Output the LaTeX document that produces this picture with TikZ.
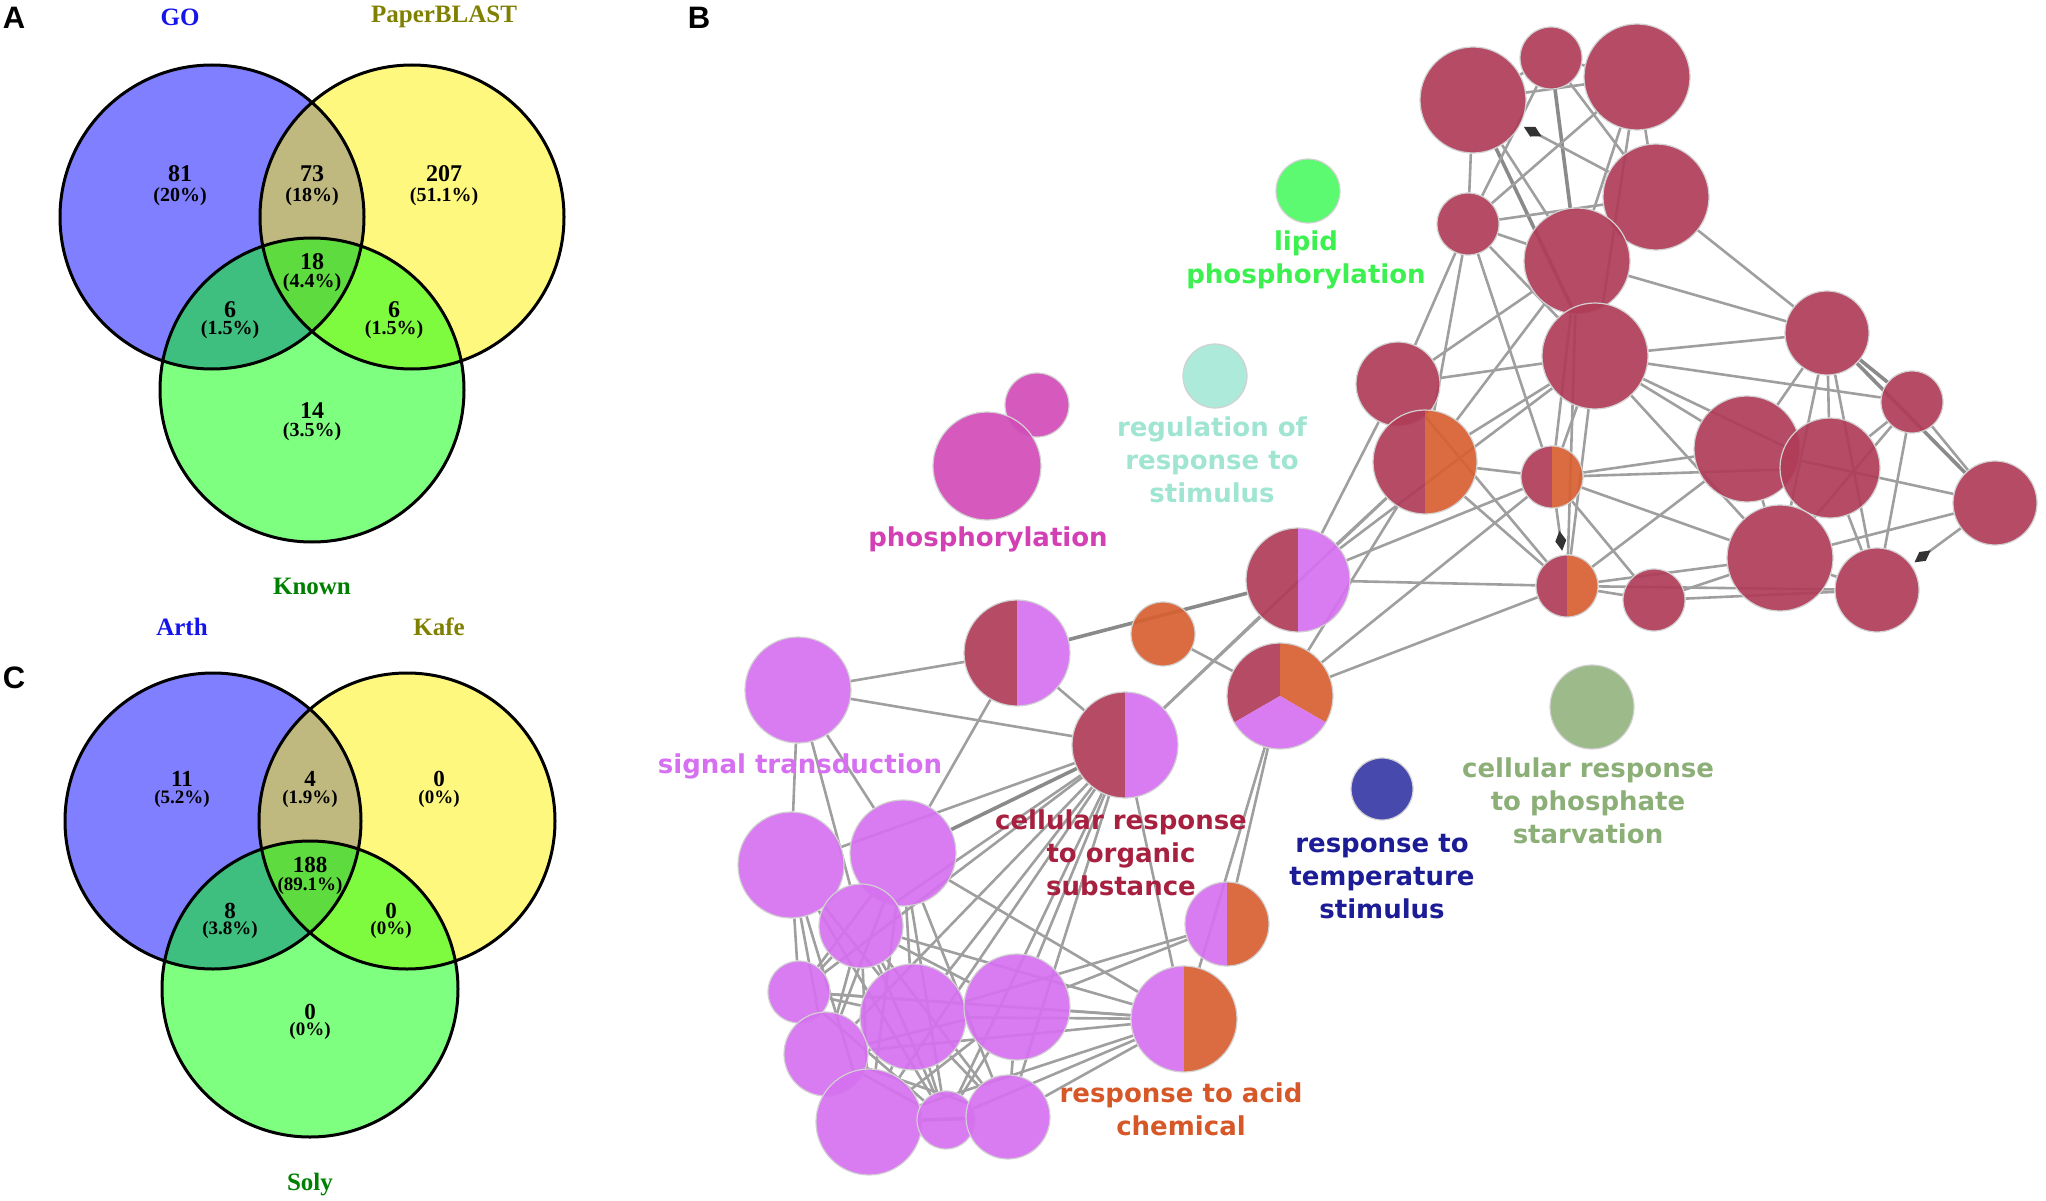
\documentclass[tikz,border=0pt]{standalone}
\usepackage{fontspec}
\setmainfont{Liberation Serif}
\newfontfamily\termfont{DejaVu Sans}
\newfontfamily\panelfont{Liberation Sans}
\usetikzlibrary{arrows.meta, backgrounds}

% --- Colores de los grupos ---
\definecolor{termred}{RGB}{176,60,88}
\definecolor{termorange}{RGB}{216,96,50}
\definecolor{termviolet}{RGB}{214,112,240}
\definecolor{termmagenta}{RGB}{210,76,184}
\definecolor{termlime}{RGB}{77,250,100}
\definecolor{termmint}{RGB}{166,232,214}
\definecolor{termnavy}{RGB}{56,58,166}
\definecolor{termsage}{RGB}{148,180,128}
\definecolor{txtmagenta}{RGB}{210,64,180}
\definecolor{txtlime}{RGB}{60,240,80}
\definecolor{txtmint}{RGB}{160,228,210}
\definecolor{txtviolet}{RGB}{214,112,240}
\definecolor{txtred}{RGB}{168,32,64}
\definecolor{txtorange}{RGB}{214,88,40}
\definecolor{txtnavy}{RGB}{28,28,150}
\definecolor{txtsage}{RGB}{140,175,120}
\definecolor{setblue}{RGB}{20,20,235}
\definecolor{setolive}{RGB}{128,128,0}
\definecolor{setgreen}{RGB}{0,128,0}

\begin{document}
\begin{tikzpicture}[
    x=1pt, y=-1pt,
    panel/.style={font=\panelfont\bfseries\fontsize{31}{33}\selectfont, inner sep=0pt},
    setfill/.style={fill=#1, fill opacity=0.5},
    setrim/.style={draw=black, line width=3pt},
    setname/.style={font=\bfseries\fontsize{25}{28}\selectfont, text=#1, inner sep=0pt},
    count/.style={font=\bfseries\fontsize{24}{26}\selectfont, inner sep=0pt},
    share/.style={font=\bfseries\fontsize{20}{22}\selectfont, inner sep=0pt},
    countsm/.style={font=\bfseries\fontsize{23}{25}\selectfont, inner sep=0pt},
    sharesm/.style={font=\bfseries\fontsize{19}{21}\selectfont, inner sep=0pt},
    term/.style 2 args={circle, inner sep=0pt, minimum size=#2, fill=#1, fill opacity=0.92,
                        draw=white!82!black, line width=1.2pt},
    halves/.style 2 args={path picture={
        \fill[#1] (path picture bounding box.south west) rectangle (path picture bounding box.north);
        \fill[#2] (path picture bounding box.north) rectangle (path picture bounding box.south east);}},
    thirds/.style={path picture={
        \fill[termred] (path picture bounding box.center) -- +(270:90) -- +(210:90) -- +(150:90) -- cycle;
        \fill[termorange] (path picture bounding box.center) -- +(270:90) -- +(330:90) -- +(30:90) -- cycle;
        \fill[termviolet] (path picture bounding box.center) -- +(150:90) -- +(90:90) -- +(30:90) -- cycle;}},
    termlabel/.style={font=\termfont\bfseries\fontsize{26}{33}\selectfont, text=#1, align=center, inner sep=0pt},
    link/.style={draw=gray!75, line width=2.6pt},
    heavy/.style={draw=gray!92, line width=3.6pt},
    tip/.style={draw=gray!75, line width=2.6pt, shorten >=4pt,
                -{Diamond[length=20pt, width=11pt, fill=black!80, color=black!80]}}
]
\useasboundingbox (0,0) rectangle (2046,1201);

% --- Letras de panel ---
\node[panel] (pa) at (14,18) {A};
\node[panel] (pb) at (699,18) {B};
\node[panel] (pc) at (14,678) {C};

% --- Venn A ---
\coordinate (go) at (212,217);
\coordinate (blast) at (412,217);
\coordinate (known) at (312,390);
\fill[setfill=blue] (go) circle[radius=152pt];
\fill[setfill=yellow] (blast) circle[radius=152pt];
\fill[setfill=green] (known) circle[radius=152pt];
\draw[setrim] (go) circle[radius=152pt] (blast) circle[radius=152pt] (known) circle[radius=152pt];

\node[setname=setblue] (goname) at (180,17) {GO};
\node[setname=setolive] (blastname) at (444,17) {PaperBLAST};
\node[setname=setgreen] (knownname) at (312,586) {Known};

\node[count] (na1) at (180,174) {81};   \node[share] (sa1) at (180,197) {(20\%)};
\node[count] (na2) at (312,174) {73};   \node[share] (sa2) at (312,197) {(18\%)};
\node[count] (na3) at (444,174) {207};  \node[share] (sa3) at (444,197) {(51.1\%)};
\node[count] (na4) at (312,262) {18};   \node[share] (sa4) at (312,283) {(4.4\%)};
\node[count] (na5) at (230,310) {6};    \node[share] (sa5) at (230,330) {(1.5\%)};
\node[count] (na6) at (394,310) {6};    \node[share] (sa6) at (394,330) {(1.5\%)};
\node[count] (na7) at (312,411) {14};   \node[share] (sa7) at (312,432) {(3.5\%)};

% --- Venn C ---
\coordinate (arth) at (213,821);
\coordinate (kafe) at (407,821);
\coordinate (soly) at (310,989);
\fill[setfill=blue] (arth) circle[radius=148pt];
\fill[setfill=yellow] (kafe) circle[radius=148pt];
\fill[setfill=green] (soly) circle[radius=148pt];
\draw[setrim] (arth) circle[radius=148pt] (kafe) circle[radius=148pt] (soly) circle[radius=148pt];

\node[setname=setblue] (arthname) at (182,627) {Arth};
\node[setname=setolive] (kafename) at (439,627) {Kafe};
\node[setname=setgreen] (solyname) at (310,1185) {Soly};

\node[countsm] (nc1) at (182,779) {11};   \node[sharesm] (sc1) at (182,799) {(5.2\%)};
\node[countsm] (nc2) at (310,779) {4};    \node[sharesm] (sc2) at (310,799) {(1.9\%)};
\node[countsm] (nc3) at (439,779) {0};    \node[sharesm] (sc3) at (439,799) {(0\%)};
\node[countsm] (nc4) at (310,865) {188};  \node[sharesm] (sc4) at (310,886) {(89.1\%)};
\node[countsm] (nc5) at (230,911) {8};    \node[sharesm] (sc5) at (230,930) {(3.8\%)};
\node[countsm] (nc6) at (391,911) {0};    \node[sharesm] (sc6) at (391,930) {(0\%)};
\node[countsm] (nc7) at (310,1012) {0};   \node[sharesm] (sc7) at (310,1031) {(0\%)};

% --- Red de terminos GO (panel B) ---
% grupo rojo
\node[term={termred}{106pt}] (r1) at (1473,100) {};
\node[term={termred}{62pt}] (r2) at (1551,58) {};
\node[term={termred}{106pt}] (r3) at (1637,77) {};
\node[term={termred}{62pt}] (r4) at (1468,224) {};
\node[term={termred}{106pt}] (r5) at (1656,197) {};
\node[term={termred}{106pt}] (r6) at (1577,261) {};
\node[term={termred}{106pt}] (r7) at (1595,356) {};
\node[term={termred}{84pt}] (r8) at (1398,384) {};
\node[term={none}{104pt}, halves={termred}{termorange}] (hA) at (1425,462) {};
\node[term={none}{62pt}, halves={termred}{termorange}] (hB) at (1552,477) {};
\node[term={none}{62pt}, halves={termred}{termorange}] (hC) at (1567,586) {};
\node[term={termred}{62pt}] (r19) at (1654,600) {};
\node[term={termred}{84pt}] (r11) at (1827,333) {};
\node[term={termred}{62pt}] (r12) at (1912,402) {};
\node[term={termred}{106pt}] (r13) at (1747,449) {};
\node[term={termred}{100pt}] (r14) at (1830,468) {};
\node[term={termred}{84pt}] (r15) at (1995,503) {};
\node[term={termred}{106pt}] (r16) at (1780,558) {};
\node[term={termred}{84pt}] (r17) at (1877,590) {};

% nodos mixtos del centro
\node[term={none}{104pt}, halves={termred}{termviolet}] (mA) at (1298,580) {};
\node[term={termorange}{64pt}] (org) at (1163,634) {};
\node[term={none}{106pt}, halves={termred}{termviolet}] (mB) at (1017,653) {};
\node[term={none}{106pt}, thirds] (tri) at (1280,696) {};
\node[term={none}{106pt}, halves={termred}{termviolet}] (cro) at (1125,745) {};
\node[term={none}{84pt}, halves={termviolet}{termorange}] (pvo) at (1227,924) {};
\node[term={none}{106pt}, halves={termviolet}{termorange}] (rac) at (1184,1019) {};

% grupo violeta
\node[term={termviolet}{106pt}] (st) at (798,690) {};
\node[term={termviolet}{106pt}] (v1) at (791,865) {};
\node[term={termviolet}{106pt}] (v2) at (903,853) {};
\node[term={termviolet}{84pt}] (v3) at (861,926) {};
\node[term={termviolet}{62pt}] (v4) at (799,992) {};
\node[term={termviolet}{106pt}] (v5) at (913,1017) {};
\node[term={termviolet}{106pt}] (v6) at (1017,1007) {};
\node[term={termviolet}{84pt}] (v7) at (826,1054) {};
\node[term={termviolet}{106pt}] (v8) at (869,1122) {};
\node[term={termviolet}{58pt}] (v9) at (946,1120) {};
\node[term={termviolet}{84pt}] (v10) at (1008,1117) {};

% nodos sueltos
\node[term={termlime}{64pt}] (lip) at (1308,191) {};
\node[term={termmint}{64pt}] (reg) at (1215,376) {};
\node[term={termmagenta}{64pt}] (ph1) at (1037,405) {};
\node[term={termmagenta}{108pt}] (ph2) at (987,466) {};
\node[term={termnavy}{62pt}] (tem) at (1382,789) {};
\node[term={termsage}{84pt}] (pst) at (1592,707) {};

% --- Etiquetas de grupos ---
\node[termlabel=txtlime] (lbllip) at (1306,260) {lipid\\phosphorylation};
\node[termlabel=txtmint] (lblreg) at (1212,460) {regulation of\\response to\\stimulus};
\node[termlabel=txtmagenta] (lblph) at (988,539) {phosphorylation};
\node[termlabel=txtviolet] (lblst) at (800,766) {signal transduction};
\node[termlabel=txtred] (lblcro) at (1121,853) {cellular response\\to organic\\substance};
\node[termlabel=txtorange] (lblrac) at (1181,1109) {response to acid\\chemical};
\node[termlabel=txtnavy] (lbltem) at (1382,877) {response to\\temperature\\stimulus};
\node[termlabel=txtsage] (lblpst) at (1588,801) {cellular response\\to phosphate\\starvation};

% --- Conexiones ---
\begin{scope}[on background layer]
\draw[link] (r1) edge (r2) edge (r3) edge (r4) edge (r6);
\draw[heavy] (r1) -- (r7);
\draw[link] (r2) edge (r3) edge (r4) edge (r5);
\draw[heavy] (r2) -- (r6);
\draw[link] (r3) edge (r4) edge (r5) edge (r6) edge (r7);
\draw[link] (r4) edge (r5) edge (r6) edge (r7) edge (r8) edge (hA) edge (hB);
\draw[link] (r5) edge (r11);
\draw[link] (r6) edge (r8) edge (r11) edge (hA) edge (hB) edge (hC);
\draw[link] (r7) edge (r8) edge (r11) edge (r12) edge (r13) edge (r14)
    edge (r16) edge (hA) edge (hB) edge (hC) edge (mA);
\draw[link] (r8) edge (hC) edge (mA);
\draw[link] (hA) edge (hB) edge (hC) edge (mA) edge (tri) edge (cro);
\draw[link] (hB) edge (mA) edge (tri) edge (r13) edge (r14) edge (r16) edge (r19);
\draw[link] (hC) edge (mA) edge (tri) edge (r13) edge (r16) edge (r17) edge (r19);
\draw[heavy] (r11) edge (r12) edge (r15);
\draw[link] (r11) edge (r13) edge (r14) edge (r16) edge (r17);
\draw[link] (r12) edge (r14) edge (r15) edge (r16) edge (r17);
\draw[link] (r13) edge (r14) edge (r15) edge (r16);
\draw[link] (r14) edge (r16) edge (r17);
\draw[link] (r15) -- (r16);
\draw[link] (r16) edge (r17) edge (r19);
\draw[link] (r19) -- (r17);
\draw[tip] (r5) -- (r1);
\draw[tip] (hB) -- (hC);
\draw[tip] (r15) -- (r17);

\draw[heavy] (mA) -- (mB);
\draw[link] (mA) -- (cro);
\draw[link] (org) -- (tri);
\draw[link] (mB) edge (cro) edge (st) edge (v2);
\draw[link] (st) edge (cro) edge (v1) edge (v2) edge (v3);
\draw[link] (cro) edge (v1) edge (v3) edge (v4) edge (v5) edge (v6)
    edge (v7) edge (v8) edge (v9) edge (v10) edge (rac);
\draw[heavy] (cro) -- (v2);
\draw[link] (tri) edge (rac) edge (pvo);
\draw[link] (pvo) edge (v5) edge (v6);
\draw[link] (rac) edge (v2) edge (v3) edge (v4) edge (v5) edge (v6)
    edge (v7) edge (v8) edge (v9) edge (v10);
\draw[link] (v1) edge (v3) edge (v4) edge (v5) edge (v7) edge (v8) edge (v9);
\draw[link] (v2) edge (v3) edge (v4) edge (v5) edge (v7) edge (v8)
    edge (v9) edge (v10);
\draw[link] (v3) edge (v4) edge (v5) edge (v6) edge (v7) edge (v8)
    edge (v9) edge (v10);
\draw[link] (v4) edge (v5) edge (v6) edge (v7) edge (v9);
\draw[link] (v5) edge (v7) edge (v8) edge (v9) edge (v10);
\draw[link] (v6) edge (v7) edge (v8) edge (v9) edge (v10);
\draw[link] (v7) edge (v8) edge (v9) edge (v10);
\draw[link] (v8) -- (v9);
\draw[heavy] (v8) -- (v10);
\draw[link] (v9) -- (v10);
\end{scope}

\end{tikzpicture}
\end{document}
